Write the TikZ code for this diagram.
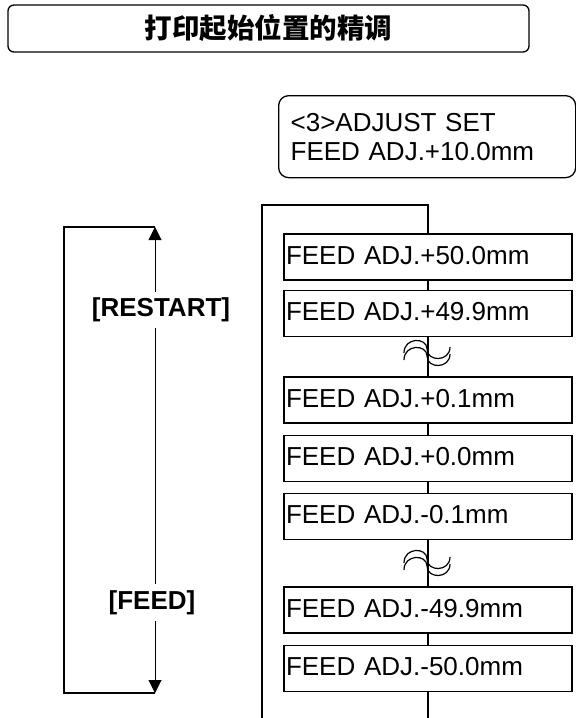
\documentclass[tikz,border=0pt]{standalone}
\usepackage{fontspec}
\setmainfont{Liberation Sans}
\newfontfamily\cjk{Noto Sans CJK SC}
\usetikzlibrary{arrows.meta, positioning}
\tikzset{
  titulo/.style={rectangle, rounded corners=6pt, draw, line width=1.3pt,
                 minimum width=521pt, minimum height=47pt, font=\cjk\bfseries\fontsize{27.5}{30}\selectfont},
  pantalla/.style={rectangle, rounded corners=10pt, draw, line width=1.3pt, align=left,
                   text width=273pt, inner xsep=12pt, minimum height=82pt,
                   font=\fontsize{26}{29}\selectfont},
  lcd/.style={rectangle, draw, line width=1.3pt, align=left, text width=284pt, inner xsep=2pt,
              minimum height=46pt, text height=19pt, text depth=5pt, font=\fontsize{26}{29}\selectfont},
  tecla/.style={inner sep=0pt, minimum height=36pt, font=\bfseries\fontsize{26}{29}\selectfont},
  linea/.style={line width=1.3pt},
  flecha/.style={-{Triangle[length=13pt, width=13pt]}, line width=1pt},
  onda/.style={line width=1.2pt},
}
\newcommand{\corte}[1]{%
  \foreach \dy in {0,7}
    \draw[onda] (404,#1+\dy) .. controls (404,#1+\dy-16) and (427,#1+\dy-16) .. (427,#1+\dy-4)
                .. controls (427,#1+\dy+9) and (450,#1+\dy+9) .. (450,#1+\dy-6);}

\begin{document}
\begin{tikzpicture}[x=1pt, y=-1pt, node distance=11pt]
    \useasboundingbox (0,0) rectangle (576,718);
    \node[titulo] (tit) at (268.5,28.5) {打印起始位置的精调};
    \node[pantalla, anchor=north west] (disp) at (278,95) {<3>ADJUST SET\\FEED ADJ.+10.0mm};

    \node[lcd] (b1) at (428,257) {FEED ADJ.+50.0mm};
    \node[lcd, below=9pt of b1] (b2) {FEED ADJ.+49.9mm};
    \node[lcd] (b3) at (428,400) {FEED ADJ.+0.1mm};
    \node[lcd, below=of b3] (b4) {FEED ADJ.+0.0mm};
    \node[lcd, below=of b4] (b5) {FEED ADJ.-0.1mm};
    \node[lcd] (b6) at (428,610) {FEED ADJ.-49.9mm};
    \node[lcd, below=of b6] (b7) {FEED ADJ.-50.0mm};

    % bucle
    \coordinate (lt) at (262,205);
    \coordinate (lb) at (262,718);
    \coordinate (fin) at (428,718);
    \draw[linea] (lb) -- (lt) -| (b1.north);
    \draw[linea] (b1) -- (b2);
    \draw[linea] (b2) -- (b3);
    \draw[linea] (b3) -- (b4);
    \draw[linea] (b4) -- (b5);
    \draw[linea] (b5) -- (b6);
    \draw[linea] (b6) -- (b7);
    \draw[linea] (b7) -- (fin);
    \corte{353}
    \corte{563}

    % teclas
    \node[tecla] (restart) at (161,310) {[RESTART]};
    \node[tecla] (feed) at (152,602.5) {[FEED]};
    \coordinate (ltop) at (155,227);
    \coordinate (lbot) at (155,693);
    \draw[linea] (ltop) -- ++(-91,0) |- (lbot);
    \draw[flecha] (restart.north -| ltop) -- (ltop);
    \draw[line width=1pt] (restart.south -| ltop) -- (feed.north -| ltop);
    \draw[flecha] (feed.south -| ltop) -- (lbot);
\end{tikzpicture}
\end{document}
